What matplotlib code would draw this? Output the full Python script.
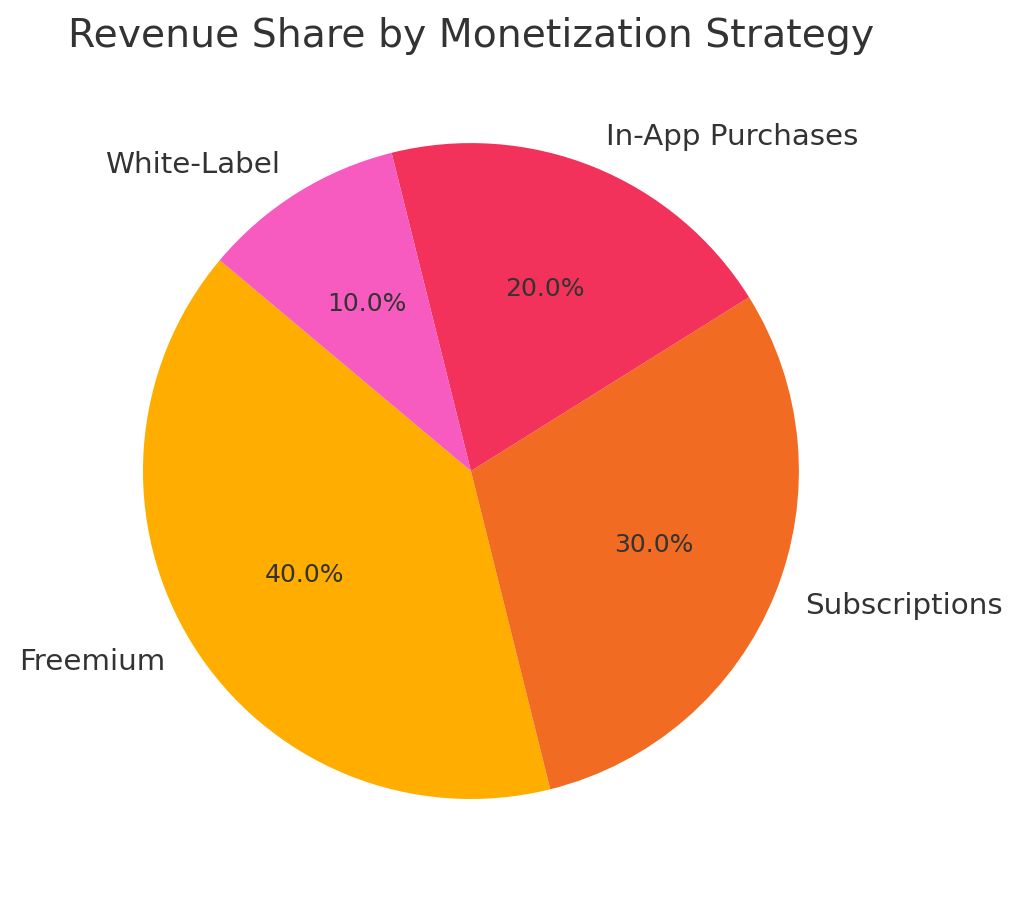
import matplotlib
matplotlib.use("Agg")
import matplotlib.pyplot as plt

# slice data, counter-clockwise from the start angle
strategies = ["Freemium", "Subscriptions", "In-App Purchases", "White-Label"]
shares = [40, 30, 20, 10]
colors = ["#FFAE00", "#F26B22", "#F2325A", "#F75BC0"]

text_color = "#333333"

fig = plt.figure(figsize=(10.24, 9.01), dpi=100)
ax = fig.add_axes([0.1396, 0.1132, 0.6406, 0.728])

wedges, labels, pcts = ax.pie(
    shares,
    labels=strategies,
    colors=colors,
    autopct="%1.1f%%",
    startangle=140,
    textprops={"color": text_color, "fontsize": 21.2},
)
for t in pcts:
    t.set_fontsize(18)
    t.set_color(text_color)
ax.set_xlim(-1, 1)
ax.set_ylim(-1, 1)
ax.set_aspect("equal")

fig.text(0.066, 0.960, "Revenue Share by Monetization Strategy",
         fontsize=28.4, color=text_color, ha="left", va="center")

fig.savefig("out.png", dpi=100, facecolor="white")
